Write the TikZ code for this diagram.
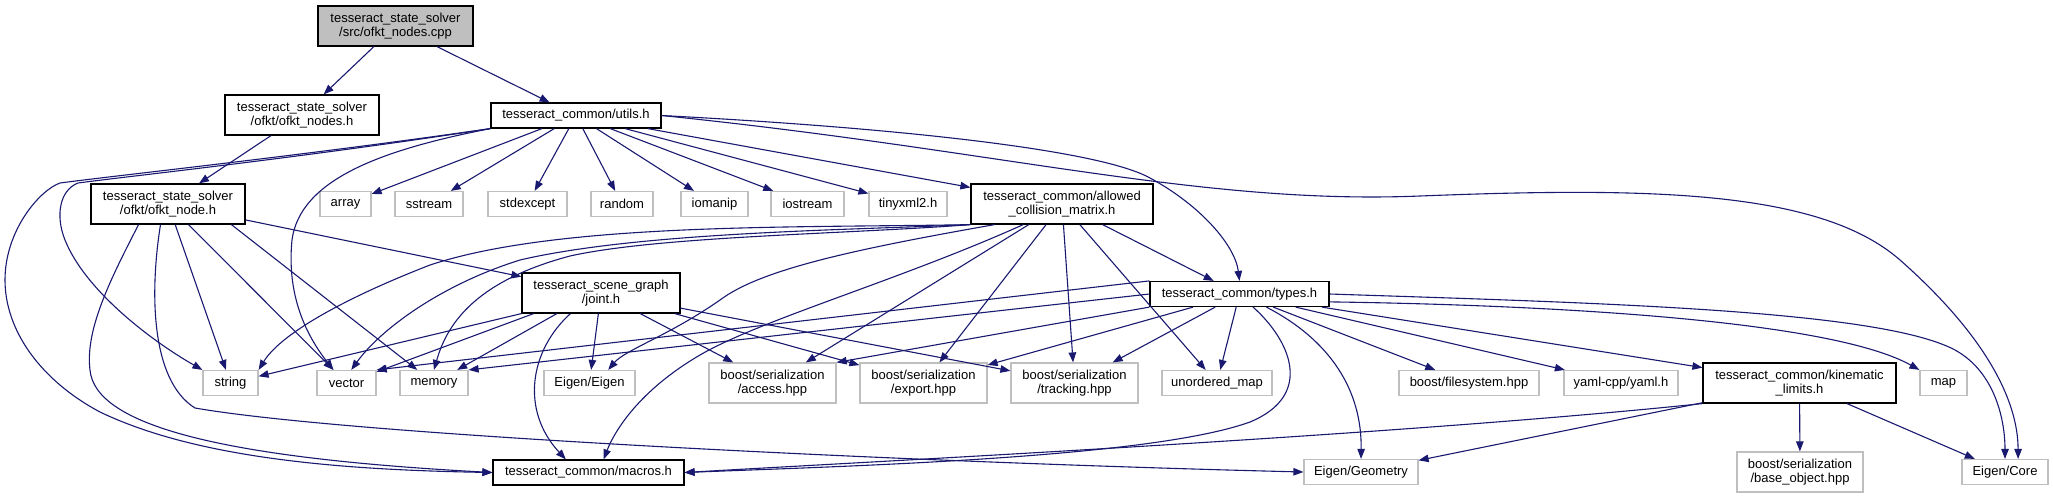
\documentclass[tikz,border=0pt]{standalone}
\usepackage{fontspec}
\setmainfont{Liberation Sans}
\usetikzlibrary{arrows.meta}
\definecolor{MB}{RGB}{25,25,112}
\definecolor{LG}{RGB}{191,191,191}
\begin{document}
\begin{tikzpicture}[x=1pt, y=-1pt,
  hdr/.style={draw=black, line width=1.2pt, fill=white, align=center,
              inner sep=1pt, minimum width=#1pt, minimum height=25pt,
              font=\fontsize{13}{14.5}\selectfont},
  ext/.style={hdr=#1, draw=LG},
  cur/.style={hdr=#1, fill=LG},
  tall/.style={minimum height=40pt},
  conn/.style={draw=MB, line width=1.1pt, -{Triangle[length=10pt, width=7.5pt]}}
]
\useasboundingbox (0,0) rectangle (2053,499);

% Source file
\node[cur=155, tall] (cpp) at (395.5,26) {tesseract\_state\_solver\\/src/ofkt\_nodes.cpp};

% First level
\node[hdr=154, tall] (ofkts) at (302,115) {tesseract\_state\_solver\\/ofkt/ofkt\_nodes.h};
\node[hdr=170] (utils) at (576,115.5) {tesseract\_common/utils.h};

% Second level
\node[hdr=154, tall] (ofkt) at (168,204) {tesseract\_state\_solver\\/ofkt/ofkt\_node.h};
\node[ext=51] (array) at (345.5,204) {array};
\node[ext=68] (sstream) at (429,204) {sstream};
\node[ext=79] (stdexcept) at (527.5,204) {stdexcept};
\node[ext=62] (random) at (622,204) {random};
\node[ext=67] (iomanip) at (714.5,204) {iomanip};
\node[ext=73] (iostream) at (807.5,204) {iostream};
\node[ext=78] (tinyxml) at (908,204) {tinyxml2.h};
\node[hdr=182, tall] (acm) at (1062,204) {tesseract\_common/allowed\\\_collision\_matrix.h};

% Third level
\node[hdr=158, tall] (joint) at (601,293) {tesseract\_scene\_graph\\/joint.h};
\node[hdr=179] (types) at (1239.5,294) {tesseract\_common/types.h};

% Fourth level
\node[ext=55] (string) at (230.5,383) {string};
\node[ext=59] (vector) at (346.5,383) {vector};
\node[ext=68] (memory) at (434,383) {memory};
\node[ext=91] (eeigen) at (589.5,383) {Eigen/Eigen};
\node[ext=127, tall] (access) at (772.5,383) {boost/serialization\\/access.hpp};
\node[ext=127, tall] (export) at (923.5,383) {boost/serialization\\/export.hpp};
\node[ext=127, tall] (tracking) at (1074.5,383) {boost/serialization\\/tracking.hpp};
\node[ext=110] (umap) at (1217,383) {unordered\_map};
\node[ext=140] (fs) at (1469,383) {boost/filesystem.hpp};
\node[ext=114] (yaml) at (1621,383) {yaml-cpp/yaml.h};
\node[hdr=193, tall] (kin) at (1799.5,383) {tesseract\_common/kinematic\\\_limits.h};
\node[ext=47] (map) at (1943.5,383) {map};

% Bottom level
\node[hdr=191] (macros) at (588.5,472.5) {tesseract\_common/macros.h};
\node[ext=114] (geom) at (1361,472) {Eigen/Geometry};
\node[ext=126, tall] (base) at (1800,472) {boost/serialization\\/base\_object.hpp};
\node[ext=86] (core) at (2005,472) {Eigen/Core};

% Source file includes
\draw[conn] (cpp) -- (ofkts);
\draw[conn] (cpp) -- (utils);
\draw[conn] (ofkts) -- (ofkt);

% utils.h
\draw[conn] (utils.south west) .. controls (300,156) and (120,175) .. (60,183)
  .. controls (40,190) and (5,230) .. (5,280) .. controls (5,330) and (40,380) .. (100,412)
  .. controls (200,460) and (350,470) .. (macros.west);
\draw[conn] (utils.south west) .. controls (300,158) and (130,176) .. (78,183)
  .. controls (60,190) and (55,215) .. (65,240) .. controls (85,290) and (150,340) .. (string.north west);
\draw[conn] (utils.south west) .. controls (380,150) and (300,180) .. (292,240)
  .. controls (286,300) and (310,340) .. (vector.135);
\draw[conn] (utils) -- (array);
\draw[conn] (utils) -- (sstream);
\draw[conn] (utils) -- (stdexcept);
\draw[conn] (utils) -- (random);
\draw[conn] (utils) -- (iomanip);
\draw[conn] (utils) -- (iostream);
\draw[conn] (utils) -- (tinyxml);
\draw[conn] (utils) -- (acm);
\draw[conn] (utils.east) .. controls (900,128) and (1100,150) .. (1150,178)
  .. controls (1200,205) and (1235,245) .. (types.north);
\draw[conn] (utils.east) .. controls (1000,150) and (1200,205) .. (1420,196)
  .. controls (1650,187) and (1820,190) .. (1900,260) .. controls (1985,335) and (2018,400) .. (core.45);

% ofkt_node.h
\draw[conn] (ofkt) -- (string);
\draw[conn] (ofkt) -- (vector);
\draw[conn] (ofkt.-18) -- (memory);
\draw[conn] (ofkt) -- (joint);
\draw[conn] (ofkt.215) .. controls (110,280) and (85,330) .. (90,370)
  .. controls (95,425) and (220,458) .. (macros.west);
\draw[conn] (ofkt.250) .. controls (150,290) and (150,380) .. (195,408)
  .. controls (350,435) and (900,462) .. (geom.west);

% joint.h
\draw[conn] (joint.south west) -- (string);
\draw[conn] (joint.197) -- (vector);
\draw[conn] (joint.205) -- (memory);
\draw[conn] (joint) -- (eeigen);
\draw[conn] (joint.214) .. controls (530,350) and (520,410) .. (macros.150);
\draw[conn] (joint) -- (access);
\draw[conn] (joint) -- (export);
\draw[conn] (joint) -- (tracking);

% allowed_collision_matrix.h
\draw[conn] (acm.south west) .. controls (800,228) and (560,222) .. (430,265)
  .. controls (340,300) and (280,335) .. (string.north east);
\draw[conn] (acm.south west) .. controls (850,230) and (640,232) .. (520,260)
  .. controls (440,285) and (380,330) .. (vector.70);
\draw[conn] (acm.south west) .. controls (850,234) and (660,236) .. (570,256)
  .. controls (480,280) and (448,320) .. (memory.north);
\draw[conn] (acm.197) .. controls (850,250) and (760,270) .. (720,300)
  .. controls (670,335) and (625,350) .. (eeigen.35);
\draw[conn] (acm.208) .. controls (900,280) and (760,320) .. (700,355)
  .. controls (640,390) and (615,430) .. (macros.41);
\draw[conn] (acm) -- (access);
\draw[conn] (acm) -- (export);
\draw[conn] (acm) -- (tracking);
\draw[conn] (acm) -- (umap);
\draw[conn] (acm) -- (types);

% types.h
\draw[conn] (types.north west) -- (vector.north east);
\draw[conn] (types.west) -- (memory.north east);
\draw[conn] (types.south west) -- (access.north east);
\draw[conn] (types) -- (export);
\draw[conn] (types) -- (tracking);
\draw[conn] (types) -- (umap);
\draw[conn] (types.-44) .. controls (1290,340) and (1315,395) .. (1250,422)
  .. controls (1150,458) and (850,466) .. (macros.east);
\draw[conn] (types.-26) .. controls (1330,340) and (1362,390) .. (geom.north);
\draw[conn] (types) -- (fs);
\draw[conn] (types) -- (yaml);
\draw[conn] (types) -- (kin);
\draw[conn] (types.-5) .. controls (1550,305) and (1830,320) .. (map.north west);
\draw[conn] (types.east) .. controls (1600,303) and (1880,310) .. (1955,350)
  .. controls (1995,372) and (2005,420) .. (core.north);

% kinematic_limits.h
\draw[conn] (kin.south west) .. controls (1400,435) and (900,460) .. (macros.east);
\draw[conn] (kin) -- (geom);
\draw[conn] (kin) -- (base);
\draw[conn] (kin) -- (core);
\end{tikzpicture}
\end{document}
